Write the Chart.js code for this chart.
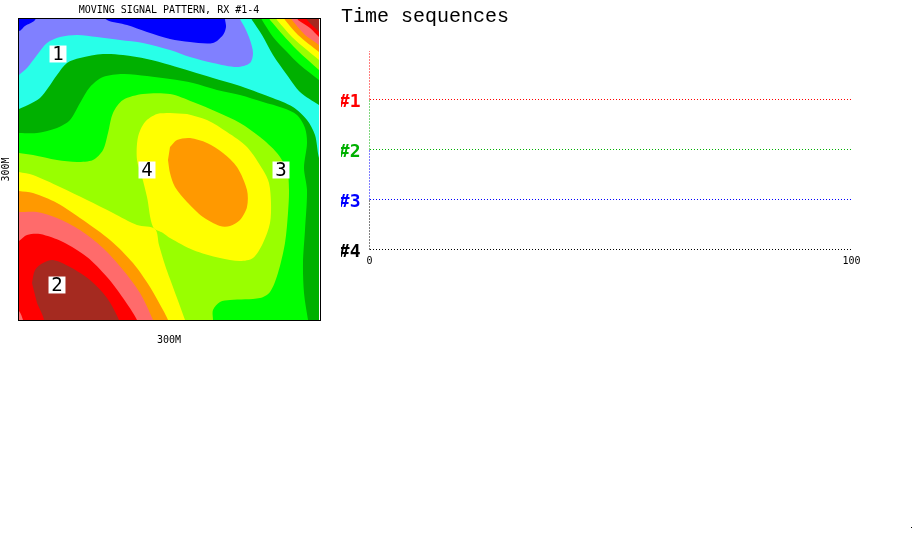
<!DOCTYPE html>
<html>
<head>
<meta charset="utf-8">
<script src="https://cdn.jsdelivr.net/npm/chart.js@4/dist/chart.umd.min.js"></script>
<style>
html,body{margin:0;padding:0;background:#fff;width:912px;height:536px;overflow:hidden}
canvas{position:absolute;top:0}
#map{left:0}
#seq{left:335px}
#speck{position:absolute;left:911px;top:527px;width:1px;height:1px;background:#000}
</style>
</head>
<body>
<canvas id="map" width="335" height="350"></canvas>
<canvas id="seq" width="577" height="300"></canvas>
<div id="speck"></div>
<script>
const mapTitle = 'MOVING SIGNAL PATTERN, RX #1-4';
const axisName = '300M';
const seqTitle = 'Time sequences';

const C_BLUE='#0000ff',C_PERI='#8080ff',C_CYAN='#28ffe8',C_DGRN='#00b000',C_GRN='#00ff00',
      C_LIME='#99ff00',C_YEL='#ffff00',C_ORG='#ff9900',C_SAL='#ff6b6b',C_RED='#ff0000',C_BRN='#a52a20';

const periwinkleBase=[[-12,-12],[312,-12],[312,312],[-12,312]];
const blueCorner=[[-10,295],[0,289],[6,294],[16,300],[18,310],[-10,310]];
const blueTop=[[80,310],[88,300],[108,295],[128,288],[151,281],[171,278],[194,277],[204,285],[207,293],[206,301],[206,312]];
const cyanBand=[[0,245],[8,252],[18,265],[28,277],[41,283],[58,285],[78,283],[101,280],[124,277],[151,270],[171,263],[194,257],[218,253],[231,257],[234,267],[231,280],[226,292],[221,301],[216,312],[312,312],[312,-12],[-12,-12],[-12,240]];
const darkGreenMain=[[0,211],[9,215],[21,222],[29,232],[38,245],[48,257],[61,262],[84,266],[104,265],[128,261],[151,255],[171,249],[194,242],[218,235],[251,223],[274,213],[288,200],[296,185],[300,162],[308,140],[312,-12],[-12,-12],[-12,205]];
const darkGreenCorner=[[233,300],[243,285],[254,265],[268,245],[281,228],[300,215],[312,208],[312,312],[228,312]];
const greenMain=[[0,187],[18,187],[38,192],[51,200],[61,217],[71,233],[84,243],[104,246],[128,244],[151,241],[174,237],[198,230],[221,225],[244,218],[264,212],[278,205],[286,192],[288,177],[285,152],[288,130],[286,90],[284,57],[285,27],[289,0],[291,-12],[-12,-12],[-12,187]];
const greenCorner=[[243,300],[254,283],[268,268],[281,255],[300,240],[312,230],[312,312],[238,312]];
const limeMain=[[0,167],[14,165],[38,160],[58,158],[74,160],[84,170],[89,187],[94,207],[104,220],[124,226],[151,226],[174,218],[198,208],[221,197],[241,183],[258,167],[268,150],[270,130],[269,107],[266,77],[259,47],[251,28],[241,22],[211,20],[201,18],[194,10],[194,0],[194,-12],[-12,-12],[-12,167]];
const limeCorner=[[251,300],[264,285],[278,270],[300,250],[312,240],[312,312],[246,312]];
const yellowCentre=[[151,207],[138,206],[126,198],[119,183],[118,160],[123,143],[128,123],[134,93],[144,87],[151,82],[174,70],[201,62],[221,59],[234,62],[244,77],[251,97],[252,117],[250,137],[244,150],[228,173],[208,188],[188,200],[168,206]];
const yellowLower=[[0,148],[14,145],[41,133],[68,120],[94,107],[118,95],[136,91],[140,75],[146,55],[151,41],[158,22],[166,0],[170,-12],[-12,-12],[-12,148]];
const yellowCorner=[[258,300],[273,283],[288,270],[300,260],[312,250],[312,312],[252,312]];
const orangeCentre=[[151,173],[158,180],[171,182],[188,177],[204,167],[218,153],[228,130],[228,113],[221,100],[211,94],[201,94],[184,103],[168,118],[156,133],[151,147],[149,160]];
const orangeLower=[[0,129],[14,127],[38,117],[64,100],[91,80],[114,57],[131,33],[144,10],[149,0],[153,-12],[-12,-12],[-12,129]];
const orangeCorner=[[266,300],[279,285],[300,268],[312,258],[312,312],[260,312]];
const salmonLower=[[0,108],[18,108],[38,102],[61,90],[84,72],[104,50],[121,27],[134,0],[138,-12],[-12,-12],[-12,108]];
const salmonCorner=[[273,300],[286,285],[300,275],[312,265],[312,312],[268,312]];
const redLower=[[0,79],[8,85],[21,86],[44,78],[68,63],[88,43],[104,22],[118,0],[120,-10],[6,-10],[4,0],[0,9],[-10,15],[-10,79]];
const redCorner=[[279,300],[291,292],[300,283],[312,273],[312,312],[274,312]];
const brownLower=[[13,37],[16,50],[24,57],[34,60],[51,53],[71,40],[88,22],[100,0],[102,-10],[23,-10],[25,0],[18,17]];
const brownCorner=[[288,300],[300,288],[312,276],[312,312],[282,312]];

const markerLabels=['1','2','3','4'];
const markerX=[39,38,262,128];
const markerY=[266,35,150,150];

const rowLabels=['#4','#3','#2','#1'];
const rowColors=['#000000','#0000ff','#00b000','#ff0000'];
const rowAxisFrom=[0,1,2,3];
const rowAxisTo=[1,2,3,3.97];
const timeTicks=[0,100];

const bands=[
 [periwinkleBase,C_PERI],[blueCorner,C_BLUE],[blueTop,C_BLUE],[cyanBand,C_CYAN],
 [darkGreenMain,C_DGRN],[darkGreenCorner,C_DGRN],[greenMain,C_GRN],[greenCorner,C_GRN],
 [limeMain,C_LIME],[limeCorner,C_LIME],[yellowCentre,C_YEL],[yellowLower,C_YEL],[yellowCorner,C_YEL],
 [orangeCentre,C_ORG],[orangeLower,C_ORG],[orangeCorner,C_ORG],[salmonLower,C_SAL],[salmonCorner,C_SAL],
 [redLower,C_RED],[redCorner,C_RED],[brownLower,C_BRN],[brownCorner,C_BRN]
];

const bandSets=bands.map(([pts,col],i)=>({
  data:pts.map(p=>({x:p[0],y:p[1]})),
  showLine:true,fill:'shape',backgroundColor:col,borderWidth:0,borderColor:'transparent',
  pointRadius:0,tension:pts===periwinkleBase?0:0.3,capBezierPoints:false,order:100-i
}));
const markerSet={
  data:markerX.map((x,i)=>({x,y:markerY[i]})),
  showLine:false,pointStyle:'rect',pointRadius:12,pointBackgroundColor:'#fff',pointBorderWidth:0,order:0
};

const mapDecor={
  id:'mapDecor',
  afterDatasetsDraw(c){
    const g=c.ctx,x=c.scales.x,y=c.scales.y;
    g.save();
    g.strokeStyle='#000';g.lineWidth=1;
    g.strokeRect(18.5,18.5,302,302);
    g.fillStyle='#000';g.font='19px "DejaVu Sans Mono"';g.textAlign='center';g.textBaseline='middle';
    markerLabels.forEach((t,i)=>g.fillText(t,x.getPixelForValue(markerX[i]),y.getPixelForValue(markerY[i])+1));
    g.restore();
  }
};

new Chart(document.getElementById('map'),{
  type:'scatter',
  data:{datasets:[...bandSets,markerSet]},
  plugins:[mapDecor],
  options:{
    responsive:false,animation:false,events:[],
    layout:{padding:{left:19,right:16}},
    plugins:{
      legend:{display:false},tooltip:{enabled:false},
      title:{display:true,text:mapTitle,color:'#000',font:{family:'"DejaVu Sans Mono"',size:10,weight:'normal',lineHeight:1.2},padding:{top:4,bottom:3}}
    },
    scales:{
      x:{type:'linear',min:0,max:300,ticks:{display:false},grid:{display:false},border:{display:false},
         title:{display:true,text:axisName,color:'#000',font:{family:'"DejaVu Sans Mono"',size:10,lineHeight:1.2},padding:{top:0,bottom:4}},
         afterFit(s){s.height=30;}},
      y:{type:'linear',min:0,max:301,ticks:{display:false},grid:{display:false},border:{display:false},
         title:{display:true,text:axisName,color:'#000',font:{family:'"DejaVu Sans Mono"',size:10,lineHeight:1.2},padding:{top:-19,bottom:0}},
         afterFit(s){s.width=0;}}
    }
  }
});

const axisSets=rowLabels.map((_,i)=>({
  data:[{x:0,y:rowAxisFrom[i]},{x:0,y:rowAxisTo[i]}],
  showLine:true,borderColor:rowColors[i],borderWidth:1,borderDash:[1,2],pointRadius:0,fill:false,clip:false
}));

new Chart(document.getElementById('seq'),{
  type:'scatter',
  data:{datasets:axisSets},
  options:{
    responsive:false,animation:false,events:[],
    layout:{padding:{left:6,right:60.5}},
    plugins:{
      legend:{display:false},tooltip:{enabled:false},
      title:{display:true,text:seqTitle,align:'start',color:'#000',font:{family:'"Liberation Mono"',size:20,weight:'normal',lineHeight:1.2},padding:{top:5,bottom:20.5}}
    },
    scales:{
      x:{type:'linear',min:timeTicks[0],max:timeTicks[1],
         grid:{display:false,drawTicks:false},border:{display:false},
         afterBuildTicks(s){s.ticks=timeTicks.map(v=>({value:v}));},
         ticks:{color:'#000',padding:6,maxRotation:0,autoSkip:false,font:{family:'"DejaVu Sans Mono"',size:10}},
         afterFit(s){s.height=50.5;}},
      y:{type:'linear',min:0,max:4,
         grid:{drawTicks:false,lineWidth:1,color:c=>c.tick&&c.tick.value<4?rowColors[c.tick.value]:'transparent'},
         border:{display:false,dash:[1,2]},
         ticks:{stepSize:1,padding:9,autoSkip:false,labelOffset:3,
           callback:v=>rowLabels[v]||'',
           color:c=>rowColors[c.tick.value]||'#000',
           font:{family:'"DejaVu Sans Mono"',size:18,weight:'bold'}},
         afterFit(s){s.width=28.5;}}
    }
  }
});
</script>
</body>
</html>
